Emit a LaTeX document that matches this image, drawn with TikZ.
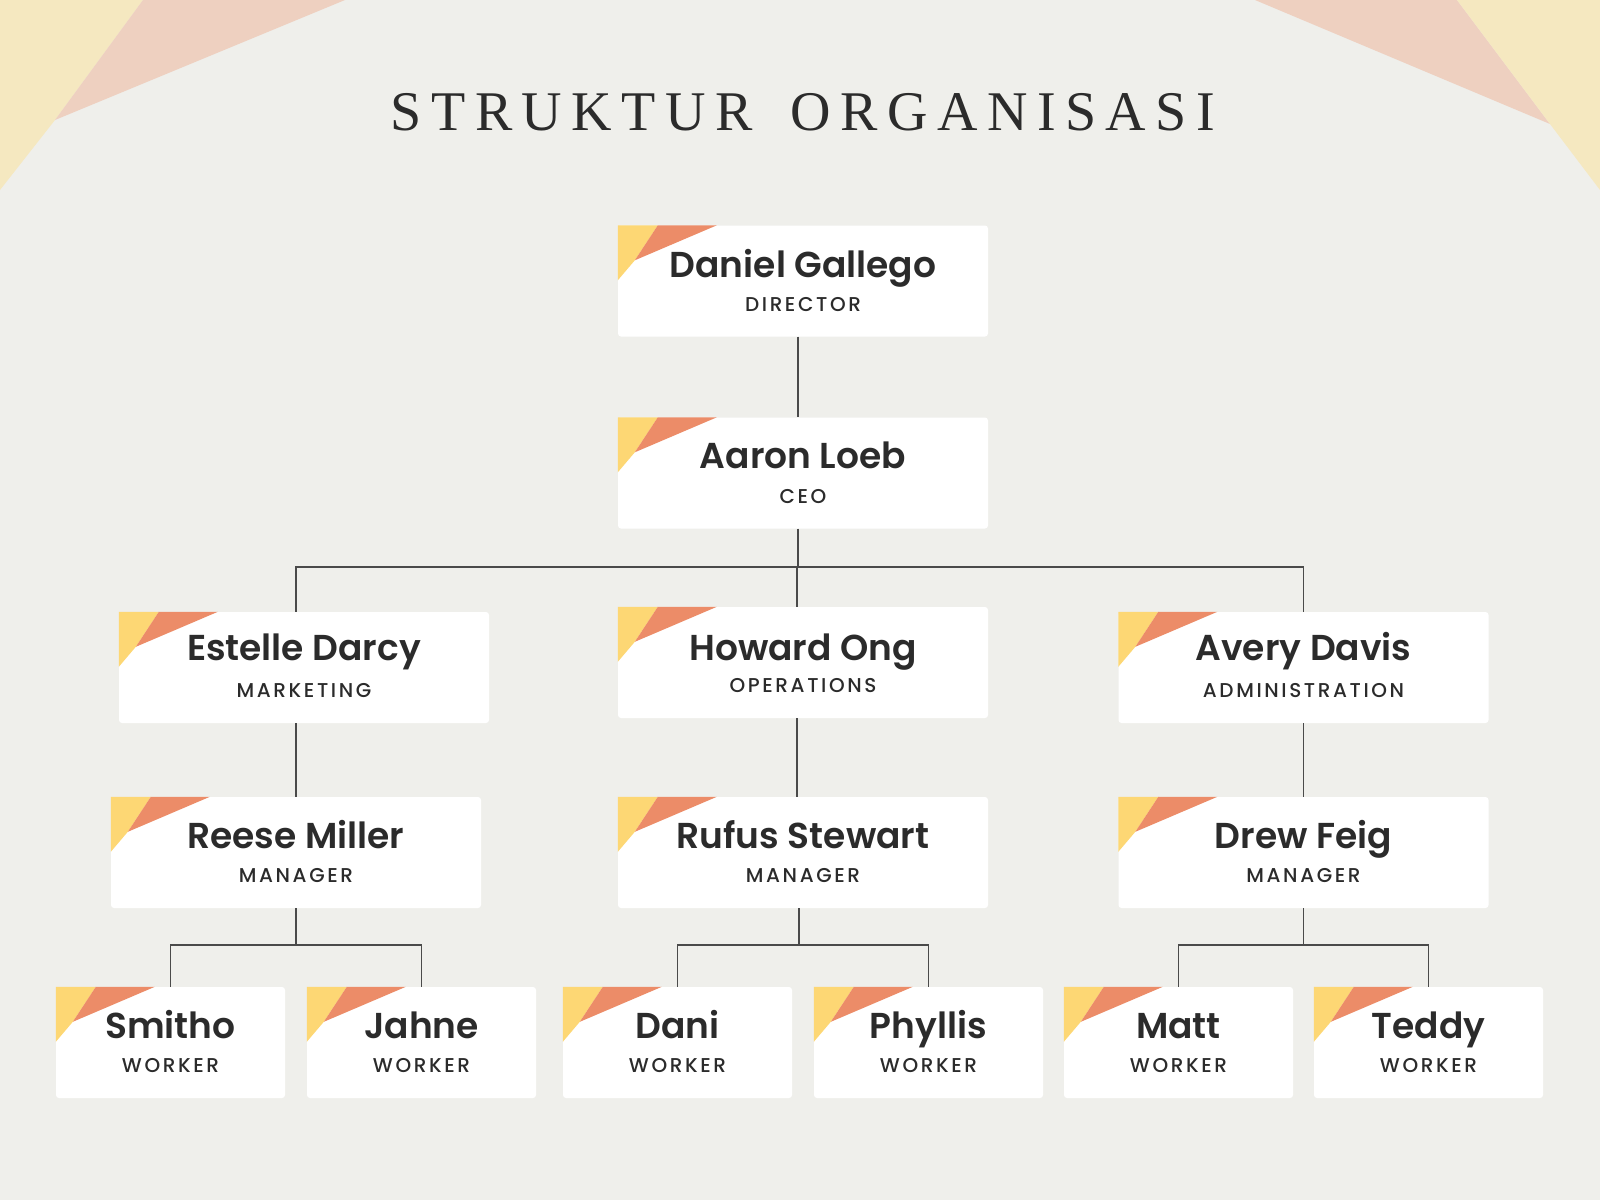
\documentclass[tikz,border=0pt]{standalone}
\usepackage{fontspec}
\setmainfont{Poppins}[BoldFont={Poppins SemiBold}]
\newfontfamily\rolefont{Poppins Medium}[LetterSpace=13]
\newfontfamily\titlefont{Liberation Serif}[LetterSpace=17]
\definecolor{bgc}{HTML}{EFEFEB}
\definecolor{pinkc}{HTML}{EED0C0}
\definecolor{yelc}{HTML}{F5E8C0}
\definecolor{cyel}{HTML}{FDD774}
\definecolor{corg}{HTML}{EC8C68}
\definecolor{txt}{HTML}{2B2B2B}
\definecolor{linec}{HTML}{4A4A4A}
\usetikzlibrary{calc}
\tikzset{
  card/.style={draw=none,fill=white,rounded corners=3pt,minimum height=111pt,inner sep=0pt},
  bigcard/.style={card,minimum width=370pt},
  smallcard/.style={card,minimum width=229pt},
  conn/.style={draw=linec,line width=1.2pt},
  nametext/.style={text=txt,font=\fontsize{36}{40}\selectfont\bfseries,anchor=base},
  roletext/.style={text=txt,font=\rolefont\fontsize{20}{22}\selectfont,anchor=base}
}
\newcommand\orgcard[7]{%
  \node[#1] (#2) at (#3,#4) {};
  \fill[cyel] (#2.north west) -- ++(40,0) -- ++(-23,35) -- ($(#2.north west)+(0,55)$) -- cycle;
  \fill[corg] ($(#2.north west)+(40,0)$) -- ++(59,0) -- ($(#2.north west)+(17,35)$) -- cycle;
  \node[nametext] (#2-n) at ($(#2.center)+(0,#7)$) {#5};
  \node[roletext] (#2-r) at ($(#2.center)+(0,30)$) {#6};
}
\begin{document}
\begin{tikzpicture}[x=1pt,y=-1pt]
\fill[bgc] (0,0) rectangle (1600,1200);
\useasboundingbox (0,0) rectangle (1600,1200);
\fill[yelc] (0,0) -- (143,0) -- (55,120) -- (0,190) -- cycle;
\fill[pinkc] (143,0) -- (345,0) -- (55,120) -- cycle;
\fill[pinkc] (1255,0) -- (1457,0) -- (1550,124) -- cycle;
\fill[yelc] (1457,0) -- (1600,0) -- (1600,190) -- (1550,124) -- cycle;
\node[text=txt,font=\titlefont\fontsize{56}{60}\selectfont] (title) at (803,112) {STRUKTUR\hspace{14pt} ORGANISASI};

\coordinate (bar) at (0,567);
\coordinate (wy) at (0,945);

\orgcard{bigcard}{dir}{803}{281}{Daniel Gallego}{DIRECTOR}{-4}
\orgcard{bigcard}{ceo}{803}{473}{Aaron Loeb}{CEO}{-5}
\orgcard{bigcard}{est}{304}{667.5}{Estelle Darcy}{MARKETING}{-7}
\orgcard{bigcard}{how}{803}{662.5}{Howard Ong}{OPERATIONS}{-2}
\orgcard{bigcard}{ave}{1303.5}{667.5}{Avery Davis}{ADMINISTRATION}{-7}
\orgcard{bigcard}{ree}{296}{852.5}{Reese Miller}{MANAGER}{-4}
\orgcard{bigcard}{ruf}{803}{852.5}{Rufus Stewart}{MANAGER}{-4}
\orgcard{bigcard}{dre}{1303.5}{852.5}{Drew Feig}{MANAGER}{-4}
\orgcard{smallcard}{smi}{170.5}{1042.5}{Smitho}{WORKER}{-4}
\orgcard{smallcard}{jah}{421.5}{1042.5}{Jahne}{WORKER}{-4}
\orgcard{smallcard}{dan}{677.5}{1042.5}{Dani}{WORKER}{-4}
\orgcard{smallcard}{phy}{928.5}{1042.5}{Phyllis}{WORKER}{-4}
\orgcard{smallcard}{mat}{1178.5}{1042.5}{Matt}{WORKER}{-4}
\orgcard{smallcard}{ted}{1428.5}{1042.5}{Teddy}{WORKER}{-4}

\path[conn] ([xshift=-5pt]dir.south) -- ([xshift=-5pt]ceo.north);
\path[conn] ([xshift=-5pt]ceo.south) -- ([xshift=-5pt]ceo.south |- bar);
\path[conn] (ree.north |- est.north) -- (ree.north |- bar) -- (ave.north |- bar) -- (ave.north);
\path[conn] ([xshift=-6pt]how.north) -- ([xshift=-6pt]how.north |- bar);
\path[conn] (ree.north |- est.south) -- (ree.north);
\path[conn] ([xshift=-6pt]how.south) -- ([xshift=-6pt]ruf.north);
\path[conn] (dre.north |- ave.south) -- (dre.north);
\path[conn] (ree.south) -- (ree.south |- wy);
\path[conn] (smi.north) -- (smi.north |- wy) -- (jah.north |- wy) -- (jah.north);
\path[conn] ([xshift=-4pt]ruf.south) -- ([xshift=-4pt]ruf.south |- wy);
\path[conn] (dan.north) -- (dan.north |- wy) -- (phy.north |- wy) -- (phy.north);
\path[conn] (dre.south) -- (dre.south |- wy);
\path[conn] (mat.north) -- (mat.north |- wy) -- (ted.north |- wy) -- (ted.north);
\end{tikzpicture}
\end{document}
